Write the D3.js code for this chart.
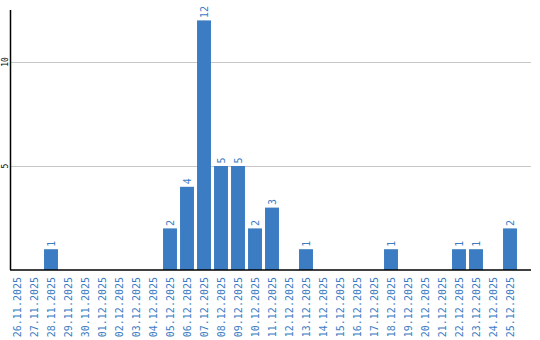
<!DOCTYPE html>
<html>
<head>
<meta charset="utf-8">
<script src="https://cdn.jsdelivr.net/npm/d3@7"></script>
<style>
  body { margin: 0; background: #fff; }
</style>
</head>
<body>
<script>
var w = 540;
var h = 340;

// dates and counts per day
var dates = ["26.11.2025","27.11.2025","28.11.2025","29.11.2025","30.11.2025",
  "01.12.2025","02.12.2025","03.12.2025","04.12.2025","05.12.2025",
  "06.12.2025","07.12.2025","08.12.2025","09.12.2025","10.12.2025",
  "11.12.2025","12.12.2025","13.12.2025","14.12.2025","15.12.2025",
  "16.12.2025","17.12.2025","18.12.2025","19.12.2025","20.12.2025",
  "21.12.2025","22.12.2025","23.12.2025","24.12.2025","25.12.2025"];
var counts = [0,0,1,0,0, 0,0,0,0,2, 4,12,5,5,2, 3,0,1,0,0, 0,0,1,0,0, 0,1,1,0,2];
var yTicks = [5, 10];

var barColor = "#3b7cc3";
var mono = "'DejaVu Sans Mono', monospace";

var svg = d3.select("body").append("svg")
    .attr("width", w)
    .attr("height", h);

var x = d3.scaleBand()
    .domain(dates)
    .range([8.5, 518.5])
    .paddingInner(0.18)
    .paddingOuter(0.09);

var y = d3.scaleLinear()
    .domain([0, 12.5])
    .range([270, 10]);

// grid lines
svg.selectAll("line.grid")
  .data(yTicks)
  .enter().append("line")
    .attr("class", "grid")
    .attr("x1", 10)
    .attr("x2", 531)
    .attr("y1", d => Math.round(y(d)) + 0.5)
    .attr("y2", d => Math.round(y(d)) + 0.5)
    .attr("stroke", "#c8c8c8")
    .attr("stroke-width", 1);

// y tick labels
svg.selectAll("text.ytick")
  .data(yTicks)
  .enter().append("text")
    .attr("class", "ytick")
    .attr("transform", d => "translate(8," + y(d) + ")rotate(-90)")
    .attr("text-anchor", "middle")
    .style("font-family", mono)
    .style("font-size", "8px")
    .attr("fill", "#000")
    .text(d => d);

// bars
var nonZero = dates.map((d, i) => ({date: d, v: counts[i]})).filter(d => d.v > 0);

svg.selectAll("rect.bar")
  .data(nonZero)
  .enter().append("rect")
    .attr("class", "bar")
    .attr("x", d => x(d.date))
    .attr("y", d => y(d.v))
    .attr("width", x.bandwidth())
    .attr("height", d => y(0) - y(d.v))
    .attr("fill", barColor);

// value labels
svg.selectAll("text.val")
  .data(nonZero)
  .enter().append("text")
    .attr("class", "val")
    .attr("transform", d => "translate(" + (x(d.date) + x.bandwidth() / 2) + "," + (y(d.v) - 2.5) + ")rotate(-90)")
    .attr("dy", "0.35em")
    .attr("text-anchor", "start")
    .style("font-family", mono)
    .style("font-size", "10px")
    .attr("fill", barColor)
    .text(d => d.v);

// x labels
svg.selectAll("text.xlab")
  .data(dates)
  .enter().append("text")
    .attr("class", "xlab")
    .attr("transform", d => "translate(" + (x(d) + x.bandwidth() / 2) + ",277)rotate(-90)")
    .attr("dy", "0.35em")
    .attr("text-anchor", "end")
    .style("font-family", mono)
    .style("font-size", "10px")
    .attr("fill", barColor)
    .text(d => d);

// axes lines
svg.append("line")
    .attr("x1", 10.5).attr("x2", 10.5)
    .attr("y1", 10).attr("y2", 270)
    .attr("stroke", "#000").attr("stroke-width", 1.5);
svg.append("line")
    .attr("x1", 10).attr("x2", 531)
    .attr("y1", 270).attr("y2", 270)
    .attr("stroke", "#000").attr("stroke-width", 1.5);
</script>
</body>
</html>
